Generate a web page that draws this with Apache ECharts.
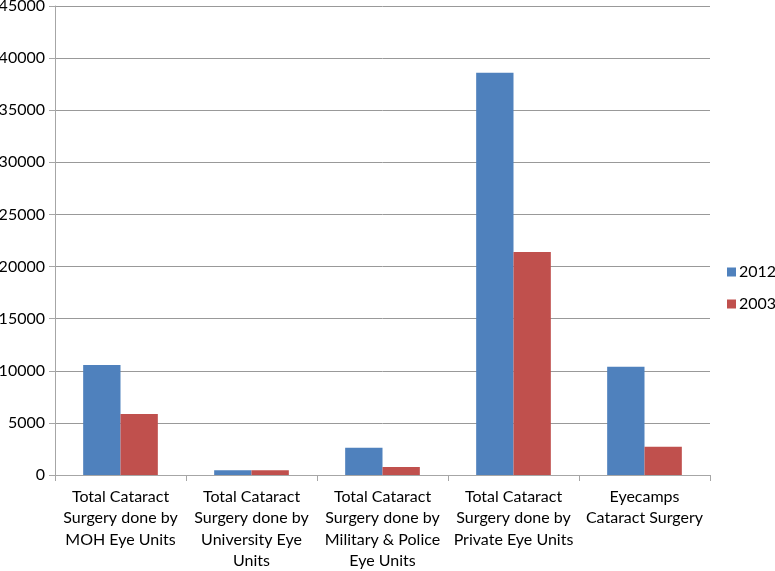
<!DOCTYPE html>
<html>
<head>
<meta charset="utf-8">
<script src="https://cdn.jsdelivr.net/npm/echarts@6/dist/echarts.min.js"></script>
<style>
  html, body { margin: 0; padding: 0; background: #fff; }
  #chart { width: 775px; height: 571px; }
</style>
</head>
<body>
<div id="chart"></div>
<script>
// categories, one line break where the original label wraps
var categories = [
  'Total Cataract\nSurgery done by\nMOH Eye Units',
  'Total Cataract\nSurgery done by\nUniversity Eye\nUnits',
  'Total Cataract\nSurgery done by\nMilitary & Police\nEye Units',
  'Total Cataract\nSurgery done by\nPrivate Eye Units',
  'Eyecamps\nCataract Surgery'
];
var values2012 = [10550, 450, 2620, 38600, 10390];
var values2003 = [5850, 450, 770, 21400, 2710];

var chart = echarts.init(document.getElementById('chart'));
var font = 'Lato, sans-serif';

var option = {
  animation: false,
  textStyle: { fontFamily: font },
  grid: { left: 55, right: 65, top: 6, bottom: 96, containLabel: false, outerBoundsMode: 'none' },
  legend: {
    orient: 'vertical',
    left: 722,
    top: 259,
    itemWidth: 9,
    itemHeight: 9,
    itemGap: 16,
    icon: 'rect',
    textStyle: { fontSize: 16, color: '#000', fontFamily: font, padding: [0, 0, 0, -2] },
    data: ['2012', '2003']
  },
  xAxis: {
    type: 'category',
    data: categories,
    axisLine: { lineStyle: { color: '#a6a6a6' } },
    axisTick: { show: true, alignWithLabel: false, length: 6, lineStyle: { color: '#a6a6a6' } },
    axisLabel: {
      interval: 0,
      fontSize: 16,
      color: '#000',
      lineHeight: 21.5,
      margin: 11,
      fontFamily: font,
      verticalAlign: 'top'
    }
  },
  yAxis: {
    type: 'value',
    min: 0,
    max: 45000,
    interval: 5000,
    axisLine: { show: true, lineStyle: { color: '#a6a6a6' } },
    axisTick: { show: true, length: 6, lineStyle: { color: '#a6a6a6' } },
    splitLine: { lineStyle: { color: '#999999' } },
    axisLabel: {
      fontSize: 16,
      color: '#000',
      margin: 10,
      fontFamily: font,
      formatter: function (v) { return String(v); }
    }
  },
  series: [
    {
      name: '2012',
      type: 'bar',
      data: values2012,
      itemStyle: { color: '#4f81bd' },
      barGap: '0%',
      barCategoryGap: '43%'
    },
    {
      name: '2003',
      type: 'bar',
      data: values2003,
      itemStyle: { color: '#c0504d' }
    }
  ]
};
chart.setOption(option);
</script>
</body>
</html>
